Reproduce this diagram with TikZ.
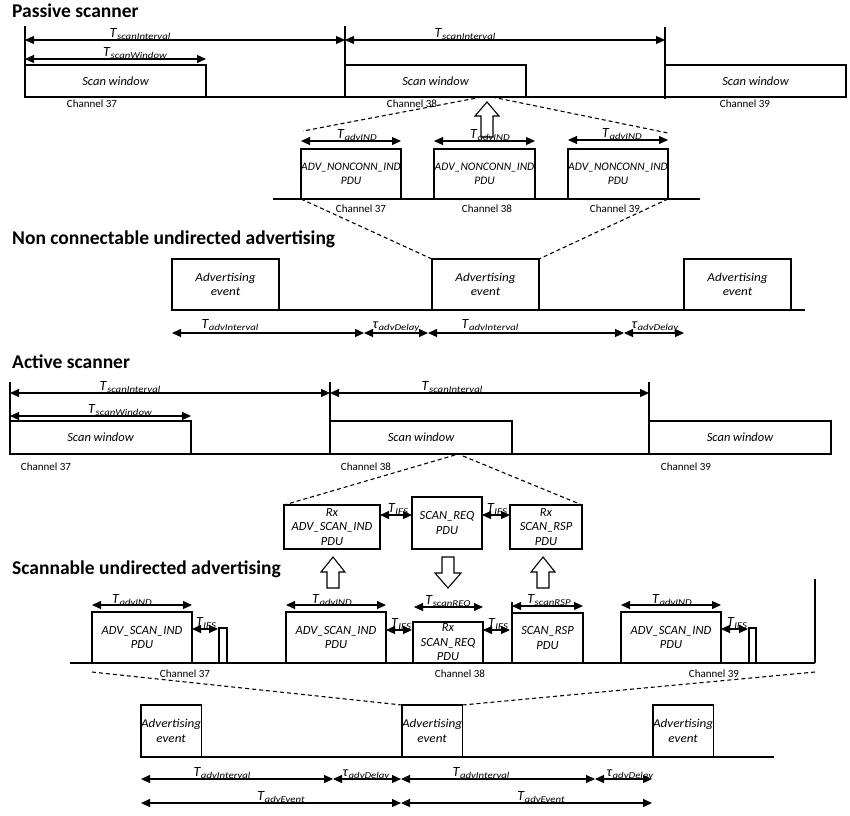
\documentclass[tikz,border=0pt]{standalone}
\usepackage{fontspec}
\setmainfont{Carlito}
\newfontfamily\subfont[FakeStretch=1.2]{Carlito}
\newfontfamily\widefont[FakeStretch=1.1]{Carlito}
\usetikzlibrary{arrows.meta,calc}
\newcommand{\Tlab}[2]{\textit{#1}\raisebox{-0.3ex}{\subfont\fontsize{9}{9}\selectfont\itshape #2}}
\begin{document}
\begin{tikzpicture}[x=1pt,y=-1pt,
  box/.style={draw=black, line width=1.1pt, inner sep=0pt, outer sep=0pt, anchor=north west, align=center, font=\itshape\fontsize{12.5}{14.5}\selectfont},
  lbl/.style={font=\fontsize{14}{14}\selectfont, inner sep=0pt, anchor=base},
  chan/.style={font=\fontsize{11}{12}\selectfont, inner sep=0pt},
  ttl/.style={font=\bfseries\fontsize{19.5}{22}\selectfont, anchor=base west, inner sep=0pt},
  dim/.style={{Triangle[length=9pt,width=8pt]}-{Triangle[length=9pt,width=8pt]}, line width=1.1pt},
  axis/.style={line width=1.1pt},
  dsh/.style={dash pattern=on 4pt off 3pt, line width=1.1pt},
  blk/.style={draw, line width=1.1pt, fill=white},
  evt/.style={box, font=\widefont\itshape\fontsize{12}{14.5}\selectfont}
]
\useasboundingbox (0,0) rectangle (850,815);

%================ Passive scanner =================
\node[ttl] (t1) at (12,17) {Passive scanner};
\draw[axis] (25,26) -- (25,97);
\draw[axis] (345,26) -- (345,97);
\draw[axis] (665,27) -- (665,99);
\draw[axis] (25,97) -- (846,97);
\node[box, minimum width=181pt, minimum height=32pt] (sw1) at (25,65) {Scan window};
\node[box, minimum width=181pt, minimum height=32pt] (sw2) at (345,65) {Scan window};
\node[box, minimum width=181pt, minimum height=32pt] (sw3) at (665,65) {Scan window};
\coordinate (pa) at (25,40); \coordinate (pb) at (345,40); \coordinate (pc) at (665,40);
\coordinate (pw) at (206,59); \coordinate (pw0) at (25,59);
\draw[dim] (pa) -- (pb);
\draw[dim] (pb) -- (pc);
\draw[dim] (pw0) -- (pw);
\node[lbl] (l1) at (140,37) {\Tlab{T}{scanInterval}};
\node[lbl] (l2) at (465,37) {\Tlab{T}{scanInterval}};
\node[lbl] (l3) at (135,56) {\Tlab{T}{scanWindow}};
\node[chan] (c1) at (92,104) {Channel 37};
\node[chan] (c2) at (412,104) {Channel 38};
\node[chan] (c3) at (745,104) {Channel 39};

% zoomed PDUs
\draw[axis] (273,199) -- (700,199);
\node[box, font=\itshape\fontsize{11.5}{14.5}\selectfont, minimum width=100pt, minimum height=50pt] (p1) at (301,149) {ADV\_NONCONN\_IND\\PDU};
\node[box, font=\itshape\fontsize{11.5}{14.5}\selectfont, minimum width=101pt, minimum height=50pt] (p2) at (434,149) {ADV\_NONCONN\_IND\\PDU};
\node[box, font=\itshape\fontsize{11.5}{14.5}\selectfont, minimum width=100pt, minimum height=50pt] (p3) at (568,149) {ADV\_NONCONN\_IND\\PDU};
\draw[blk] (487,102) -- (499,116) -- (493,116) -- (493,137) -- (481,137) -- (481,116) -- (475,116) -- cycle;
\draw[dim] ($(p1.north west)+(0,-8)$) -- ($(p1.north east)+(0,-8)$);
\draw[dim] ($(p2.north west)+(0,-8)$) -- ($(p2.north east)+(0,-8)$);
\draw[dim] ($(p3.north west)+(0,-9)$) -- ($(p3.north east)+(0,-9)$);
\node[lbl] (l4) at (357,138) {\Tlab{T}{advIND}};
\node[lbl] (l5) at (490,138) {\Tlab{T}{advIND}};
\node[lbl] (l6) at (622,137) {\Tlab{T}{advIND}};
\node[chan] (c4) at (361,209) {Channel 37};
\node[chan] (c5) at (487,209) {Channel 38};
\node[chan] (c6) at (615,209) {Channel 39};
\coordinate (z1) at (482,97); \coordinate (z2) at (492,97);
\coordinate (z3) at (303,131); \coordinate (z4) at (668,133);
\draw[dsh] (z1) -- (z3);
\draw[dsh] (z2) -- (z4);

%================ Non connectable =================
\node[ttl] (t2) at (12,244) {Non connectable undirected advertising};
\draw[axis] (172,310) -- (805,310);
\node[evt, minimum width=107pt, minimum height=51pt] (a1) at (172,259) {Advertising\\event};
\node[evt, minimum width=107pt, minimum height=51pt] (a2) at (432,259) {Advertising\\event};
\node[evt, minimum width=107pt, minimum height=51pt] (a3) at (684,259) {Advertising\\event};
\draw[dsh] (p1.south west) -- (a2.north west);
\draw[dsh] (p3.south east) -- (a2.north east);
\coordinate (n0) at (172,333); \coordinate (n1) at (364,333); \coordinate (n2) at (428,333);
\coordinate (n3) at (624,333); \coordinate (n4) at (684,333);
\draw[dim] (n0) -- (n1);
\draw[dim] (n1) -- (n2);
\draw[dim] (n2) -- (n3);
\draw[dim] (n3) -- (n4);
\node[lbl] (l7) at (230,328) {\Tlab{T}{advInterval}};
\node[lbl] (l8) at (396,328) {\Tlab{τ}{advDelay}};
\node[lbl] (l9) at (490,328) {\Tlab{T}{advInterval}};
\node[lbl] (l10) at (655,328) {\Tlab{τ}{advDelay}};

%================ Active scanner =================
\node[ttl] (t3) at (12,368) {Active scanner};
\draw[axis] (10,382) -- (10,454);
\draw[axis] (330,382) -- (330,454);
\draw[axis] (649,382) -- (649,455);
\draw[axis] (10,454) -- (831,454);
\node[box, minimum width=181pt, minimum height=33pt] (s1) at (10,421) {Scan window};
\node[box, minimum width=182pt, minimum height=33pt] (s2) at (330,421) {Scan window};
\node[box, minimum width=182pt, minimum height=33pt] (s3) at (649,421) {Scan window};
\coordinate (qa) at (10,393); \coordinate (qb) at (330,393); \coordinate (qc) at (649,393);
\coordinate (qw0) at (10,416); \coordinate (qw) at (191,416);
\draw[dim] (qa) -- (qb);
\draw[dim] (qb) -- (qc);
\draw[dim] (qw0) -- (qw);
\node[lbl] (l11) at (130,390) {\Tlab{T}{scanInterval}};
\node[lbl] (l12) at (452,390) {\Tlab{T}{scanInterval}};
\node[lbl] (l13) at (120,413) {\Tlab{T}{scanWindow}};
\node[chan] (c7) at (46,467) {Channel 37};
\node[chan] (c8) at (366,467) {Channel 38};
\node[chan] (c9) at (686,467) {Channel 39};

% zoomed exchange (scanner side)
\node[box, minimum width=96pt, minimum height=44pt] (r1) at (284,505) {Rx\\ADV\_SCAN\_IND\\PDU};
\node[box, minimum width=70pt, minimum height=52pt] (r2) at (412,497) {SCAN\_REQ\\PDU};
\node[box, minimum width=72pt, minimum height=44pt] (r3) at (510,505) {Rx\\SCAN\_RSP\\PDU};
\coordinate (y1) at (455,455); \coordinate (y2) at (463,456);
\draw[dsh] (y1) -- (r1.north west);
\draw[dsh] (y2) -- (r3.north east);
\draw[dim] ($(r1.north east)+(0,10)$) -- ($(r1.north east)+(32,10)$);
\draw[dim] ($(r3.north west)+(-28,10)$) -- ($(r3.north west)+(0,10)$);
\node[lbl] (l14) at (398,512) {\Tlab{T}{IFS}};
\node[lbl] (l15) at (497,512) {\Tlab{T}{IFS}};
\draw[blk] (333,557) -- (345,572) -- (339,572) -- (339,588) -- (327,588) -- (327,572) -- (321,572) -- cycle;
\draw[blk] (442,557) -- (454,557) -- (454,573) -- (461,573) -- (448,588) -- (435,573) -- (442,573) -- cycle;
\draw[blk] (543,557) -- (555,572) -- (549,572) -- (549,588) -- (537,588) -- (537,572) -- (531,572) -- cycle;

%================ Scannable undirected advertising =================
\node[ttl] (t4) at (12,574) {Scannable undirected advertising};
\draw[axis] (70,663) -- (815,663);
\draw[axis] (815,579) -- (815,663);
\node[box, minimum width=100pt, minimum height=51pt] (b1) at (92,612) {ADV\_SCAN\_IND\\PDU};
\node[box, minimum width=8pt, minimum height=35pt] (k1) at (219,628) {};
\node[box, minimum width=100pt, minimum height=51pt] (b2) at (286,612) {ADV\_SCAN\_IND\\PDU};
\node[box, minimum width=70pt, minimum height=41pt] (b3) at (413,622) {Rx\\SCAN\_REQ\\PDU};
\node[box, minimum width=71pt, minimum height=50pt] (b4) at (512,613) {SCAN\_RSP\\PDU};
\node[box, minimum width=100pt, minimum height=51pt] (b5) at (621,612) {ADV\_SCAN\_IND\\PDU};
\node[box, minimum width=7pt, minimum height=35pt] (k2) at (749,628) {};
\draw[axis] (b4.north west) -- ++(0,-11);
% dimension arrows
\draw[dim] ($(b1.north west)+(0,-7)$) -- ($(b1.north east)+(0,-7)$);
\draw[dim] ($(b2.north west)+(0,-7)$) -- ($(b2.north east)+(0,-7)$);
\draw[dim] ($(b5.north west)+(0,-7)$) -- ($(b5.north east)+(0,-7)$);
\draw[dim] ($(b3.north west)+(1,-15)$) -- ($(b3.north east)+(0,-15)$);
\draw[dim] ($(b4.north west)+(0,-7)$) -- ($(b4.north east)+(0,-7)$);
\draw[dim] ($(b1.north east)+(0,17)$) -- ($(k1.north west)+(-1,1)$);
\draw[dim] ($(b2.north east)+(0,18)$) -- ($(b3.north west)+(-1,8)$);
\draw[dim] ($(b3.north east)+(0,8)$) -- ($(b4.north west)+(-2,17)$);
\draw[dim] ($(b5.north east)+(0,17)$) -- ($(k2.north west)+(-1,1)$);
\node[lbl] (l16) at (132,603) {\Tlab{T}{advIND}};
\node[lbl] (l17) at (332,603) {\Tlab{T}{advIND}};
\node[lbl] (l18) at (448,604) {\Tlab{T}{scanREQ}};
\node[lbl] (l19) at (549,603) {\Tlab{T}{scanRSP}};
\node[lbl] (l20) at (672,603) {\Tlab{T}{advIND}};
\node[lbl] (l21) at (206,626) {\Tlab{T}{IFS}};
\node[lbl] (l22) at (401,627) {\Tlab{T}{IFS}};
\node[lbl] (l23) at (498,627) {\Tlab{T}{IFS}};
\node[lbl] (l24) at (737,626) {\Tlab{T}{IFS}};
\node[chan] (c10) at (185,674) {Channel 37};
\node[chan] (c11) at (460,674) {Channel 38};
\node[chan] (c12) at (714,674) {Channel 39};

% advertising events
\draw[axis] (141,757) -- (774,757);
\node[evt, minimum width=60pt, minimum height=52pt] (e1) at (141,705) {Advertising\\event};
\node[evt, minimum width=60pt, minimum height=52pt] (e2) at (402,705) {Advertising\\event};
\node[evt, minimum width=60pt, minimum height=52pt] (e3) at (653,705) {Advertising\\event};
\coordinate (x1) at (92,672); \coordinate (x2) at (815,672);
\draw[dsh] (x1) -- (e2.north west);
\draw[dsh] (x2) -- (e2.north east);
\coordinate (m0) at (141,779); \coordinate (m1) at (333,779); \coordinate (m2) at (401,779);
\coordinate (m3) at (595,779); \coordinate (m4) at (652,779);
\draw[dim] (m0) -- (m1);
\draw[dim] (m1) -- (m2);
\draw[dim] (m2) -- (m3);
\draw[dim] (m3) -- (m4);
\coordinate (v0) at (141,803); \coordinate (v1) at (401,803); \coordinate (v2) at (652,803);
\draw[dim] (v0) -- (v1);
\draw[dim] (v1) -- (v2);
\node[lbl] (l25) at (222,776) {\Tlab{T}{advInterval}};
\node[lbl] (l26) at (366,776) {\Tlab{τ}{advDelay}};
\node[lbl] (l27) at (481,776) {\Tlab{T}{advInterval}};
\node[lbl] (l28) at (630,776) {\Tlab{τ}{advDelay}};
\node[lbl] (l29) at (281,800) {\Tlab{T}{advEvent}};
\node[lbl] (l30) at (541,800) {\Tlab{T}{advEvent}};
\end{tikzpicture}
\end{document}
